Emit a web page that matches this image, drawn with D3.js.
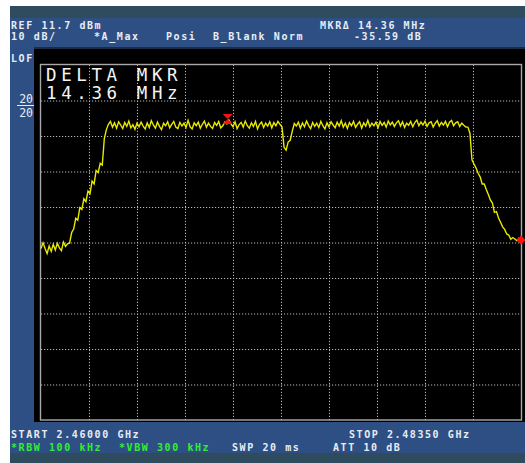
<!DOCTYPE html>
<html><head><meta charset="utf-8">
<script src="https://cdn.jsdelivr.net/npm/d3@7"></script>
<style>
html,body{margin:0;padding:0;background:#fff;}
svg{display:block;}
</style></head>
<body>
<svg id="c" width="525" height="463"></svg>
<script>
// ---- data ----
const startMHz = 2460.0;
const stopMHz = 2483.5;
const refLevel = 11.7;      // dBm at top
const dbPerDiv = 10;
const stepMHz = 0.1;
const floorDbm = [-40.0,-38.4,-40.0,-41.4,-39.3,-40.8,-38.8,-40.4,-38.5,-39.8,-40.6,-38.2,-39.4,-38.7];
const riseDbm = [-38.5,-35.5,-34.5,-31.5,-32.0,-28.5,-29.0,-26.0,-26.8,-23.8,-24.5,-21.0,-21.8,-18.0,-18.6,-16.0,-16.5,-9.0,-6.5];
const top1Dbm = [-5.0,-4.2,-5.8,-4.6,-6.1,-4.3,-5.2,-6.2,-4.5,-5.6,
 -4.1,-6.0,-5.1,-6.4,-4.7,-5.7,-4.4,-5.5,-6.3,-4.6,
 -5.9,-4.0,-5.2,-6.1,-4.4,-5.6,-6.5,-4.7,-5.4,-4.3,
 -6.0,-5.0,-4.2,-5.8,-6.2,-4.5,-5.5,-4.7,-5.9,-3.9,
 -5.7,-6.3,-4.6,-5.4,-4.4,-6.1,-5.0,-4.1,-5.8,-4.7,
 -5.6,-6.2,-4.5,-5.3,-4.2,-6.0,-5.4,-4.4,-4.9,-3.8,
 -4.9,-5.7,-4.3,-6.2,-5.1,-4.5,-5.8,-4.1,-5.4,-6.1,
 -4.6,-5.6,-4.2,-6.3,-5.0,-4.4,-5.9,-4.7,-5.5,-4.3,
 -6.0,-4.5,-5.4,-4.2,-5.0];
const dipDbm = [-5.8,-11.5,-12.3,-10.0,-9.5,-7.0,-4.8];
const top2Dbm = [-5.5,-4.4,-6.1,-4.6,-5.7,-4.1,-5.3,-6.2,-4.5,-5.6,
 -4.7,-5.9,-4.2,-5.4,-6.3,-4.6,-5.7,-4.3,-5.2,-6.0,
 -4.4,-5.5,-4.0,-5.8,-4.7,-6.2,-4.5,-5.4,-4.2,-5.9,
 -5.0,-4.3,-6.1,-4.6,-5.5,-3.9,-5.7,-4.7,-5.4,-4.4,
 -6.0,-4.2,-5.3,-4.5,-5.8,-4.1,-5.2,-4.4,-5.6,-4.6,
 -4.0,-5.5,-4.3,-5.9,-4.7,-5.3,-4.2,-5.7,-4.5,-3.8,
 -5.4,-4.4,-5.2,-4.1,-5.6,-4.6,-4.3,-5.8,-4.7,-4.0,
 -5.5,-4.5,-5.2,-4.2,-5.7,-4.4,-3.9,-5.4,-4.6,-4.3,
 -5.6,-4.7,-5.3,-5.8];
const fallDbm = [-5.8,-7.5,-15.0,-16.2,-17.3,-18.8,-19.8,-21.8,-21.8,-23.4,
 -24.8,-26.3,-27.2,-29.8,-29.6,-31.4,-32.6,-33.9,-34.6,-35.9,
 -36.2,-37.4,-36.9,-37.3,-37.8,-37.1,-37.6];
const deltaMarkerMHz = 2469.14;
const refMarkerMHz = 2483.5;
const headerRow1 = [["REF 11.7 dBm",11],["MKR\u0394 14.36 MHz",320]];
const headerRow2 = [["10 dB/",11],["*A_Max",94],["Posi",166],["B_Blank Norm",213],["-35.59 dB",354]];
const footerRow1 = [["START 2.46000 GHz",11,"#e8ecf4"],["STOP 2.48350 GHz",349,"#e8ecf4"]];
const footerRow2 = [["*RBW 100 kHz",11,"#33ee33"],["*VBW 300 kHz",119,"#33ee33"],["SWP 20 ms",232,"#e8ecf4"],["ATT 10 dB",333,"#e8ecf4"]];
const bigLabel = ["DELTA MKR","14.36 MHz"];

// ---- build ----
const trace = [].concat(floorDbm, riseDbm, top1Dbm, dipDbm, top2Dbm, fallDbm)
  .map((v,i)=>({f:startMHz+i*stepMHz, v}));

const svg = d3.select("#c");
// background panels
svg.append("rect").attr("x",10).attr("y",6).attr("width",515).attr("height",12).attr("fill","#2f4c5e");
svg.append("rect").attr("x",10).attr("y",18).attr("width",515).attr("height",435).attr("fill","#2d4f83");
svg.append("rect").attr("x",10).attr("y",453).attr("width",515).attr("height",10).attr("fill","#2f4c5e");
svg.append("rect").attr("x",34).attr("y",47).attr("width",491).attr("height",2).attr("fill","#1b2c44");
svg.append("rect").attr("x",34).attr("y",49).attr("width",491).attr("height",373).attr("fill","#000");

const x = d3.scaleLinear().domain([startMHz, stopMHz]).range([41, 521]);
const y = d3.scaleLinear().domain([refLevel - 10*dbPerDiv, refLevel]).range([420, 65]);

// grid via axes
const xTicks = d3.range(0, 11).map(k => startMHz + k*(stopMHz-startMHz)/10);
const yTicks = d3.range(0, 11).map(k => refLevel - k*dbPerDiv);
const gx = svg.append("g").attr("transform","translate(0,420)")
  .call(d3.axisBottom(x).tickValues(xTicks.slice(1,10)).tickSize(-355).tickFormat(""));
const gy = svg.append("g").attr("transform","translate(41,0)")
  .call(d3.axisLeft(y).tickValues(yTicks.slice(1,10)).tickSize(-480).tickFormat(""));
[gx,gy].forEach(g=>{
  g.select(".domain").remove();
  g.selectAll("line").attr("stroke","#b8b8b8").attr("stroke-width",1).attr("stroke-dasharray","1.2,1.8");
});
svg.append("rect").attr("x",40.5).attr("y",64.5).attr("width",481).attr("height",355.5)
  .attr("fill","none").attr("stroke","#a8a8a8").attr("stroke-width",1.4);

// big label
const mono = "'DejaVu Sans Mono', 'Liberation Mono', monospace";
bigLabel.forEach((t,i)=>{
  svg.append("text").attr("x",46).attr("y",81+i*18).text(t)
    .attr("font-family",mono).attr("font-size",17.5).attr("letter-spacing","4.6px")
    .attr("fill","#f4f4f4");
});

// trace
const line = d3.line().x(d=>x(d.f)).y(d=>y(d.v));
svg.append("path").datum(trace).attr("d",line).attr("fill","none")
  .attr("stroke","#e8e800").attr("stroke-width",1.4).attr("stroke-linejoin","miter");

// delta marker (hourglass)
const dm = trace.reduce((a,b)=>Math.abs(b.f-deltaMarkerMHz)<Math.abs(a.f-deltaMarkerMHz)?b:a);
const mx = x(deltaMarkerMHz), my = y(dm.v) - 5;
svg.append("path").attr("d",`M${mx-5},${my-5}L${mx+5},${my-5}L${mx},${my}L${mx+5},${my+5}L${mx-5},${my+5}L${mx},${my}Z`)
  .attr("fill","#ff1010");
// reference marker
const rm = trace[trace.length-1];
const rx = x(refMarkerMHz), ry = y(rm.v);
svg.append("path").attr("d",`M${rx-4.5},${ry}L${rx},${ry-4.5}L${rx+4.5},${ry}L${rx},${ry+4.5}Z`).attr("fill","#ff1010");

// header / footer text
const txt = (t,xx,yy,col)=>svg.append("text").attr("x",xx).attr("y",yy).text(t)
  .attr("font-family",mono).attr("font-weight","bold").attr("font-size",10)
  .attr("letter-spacing","1.58px").attr("fill",col||"#e8ecf4");
headerRow1.forEach(d=>txt(d[0],d[1],29));
headerRow2.forEach(d=>txt(d[0],d[1],39.5));
footerRow1.forEach(d=>txt(d[0],d[1],438));
footerRow2.forEach(d=>txt(d[0],d[1],451,d[2]));
txt("LOF",11,62);
svg.append("text").attr("x",33).attr("y",103).attr("text-anchor","end").text("20")
  .attr("font-family",mono).attr("font-size",11.5).attr("fill","#e8ecf4");
svg.append("line").attr("x1",17).attr("x2",34).attr("y1",105.5).attr("y2",105.5).attr("stroke","#e8ecf4").attr("stroke-width",1);
svg.append("text").attr("x",33).attr("y",117).attr("text-anchor","end").text("20")
  .attr("font-family",mono).attr("font-size",11.5).attr("fill","#e8ecf4");
</script>
</body></html>
